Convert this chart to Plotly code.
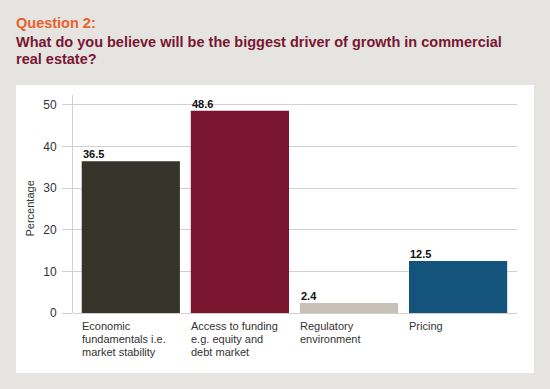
import plotly.graph_objects as go

categories = ["Economic<br>fundamentals i.e.<br>market stability",
              "Access to funding<br>e.g. equity and<br>debt market",
              "Regulatory<br>environment",
              "Pricing"]
values = [36.5, 48.6, 2.4, 12.5]
value_labels = ["36.5", "48.6", "2.4", "12.5"]
bar_colors = ["#35342b", "#7a1530", "#c8c1b7", "#14547c"]
y_ticks = [0, 10, 20, 30, 40, 50]

W, H = 550, 389
L, R, T, B = 73, 33, 95, 76
pw, ph = W - L - R, H - T - B
FONT = "Liberation Sans, Arial"

def px(x):
    return (x - L) / pw

def py(y):
    return (H - B - y) / ph

xs = list(range(len(categories)))
fig = go.Figure()
fig.add_trace(go.Bar(x=xs, y=values, marker=dict(color=bar_colors, line=dict(width=0)),
                     width=0.9, hoverinfo="skip"))

ann = []
for i, (v, t) in enumerate(zip(values, value_labels)):
    ann.append(dict(x=i - 0.45, y=v, xref="x", yref="y", text="<b>" + t + "</b>",
                    showarrow=False, xanchor="left", yanchor="bottom",
                    font=dict(size=11, color="#111111", family=FONT),
                    xshift=-1, yshift=-1))
for i, c in enumerate(categories):
    for k, line in enumerate(c.split("<br>")):
        ann.append(dict(x=i - 0.45, y=0, xref="x", yref="y", text=line, align="left",
                        showarrow=False, xanchor="left", yanchor="top",
                        font=dict(size=11, color="#333333", family=FONT),
                        xshift=-2, yshift=-5 - 13 * k))
ann.append(dict(x=px(29.5), y=py(209), xref="paper", yref="paper", text="Percentage",
                textangle=-90, showarrow=False, xanchor="center", yanchor="middle",
                font=dict(size=11, color="#333333", family=FONT)))
ann.append(dict(x=px(14), y=py(13), xref="paper", yref="paper", text="<b>Question 2:</b>",
                showarrow=False, xanchor="left", yanchor="top",
                font=dict(size=14.5, color="#e8612c", family=FONT)))
ann.append(dict(x=px(14), y=py(32), xref="paper", yref="paper",
                text="<b>What do you believe will be the biggest driver of growth in commercial</b>",
                showarrow=False, xanchor="left", yanchor="top",
                font=dict(size=14.5, color="#7a1632", family=FONT)))
ann.append(dict(x=px(14), y=py(49), xref="paper", yref="paper",
                text="<b>real estate?</b>",
                showarrow=False, xanchor="left", yanchor="top",
                font=dict(size=14.5, color="#7a1632", family=FONT)))

fig.update_layout(
    width=W, height=H,
    margin=dict(l=L, r=R, t=T, b=B, pad=0),
    paper_bgcolor="#e5e4e0",
    plot_bgcolor="rgba(0,0,0,0)",
    showlegend=False,
    bargap=0.1,
    annotations=ann,
    shapes=[dict(type="rect", xref="paper", yref="paper", x0=px(16), x1=px(534),
                 y0=py(373), y1=py(85), fillcolor="white", line=dict(width=0), layer="below")],
    xaxis=dict(range=[-0.53, 3.54], showticklabels=False, showgrid=False, zeroline=False,
               ticks="", showline=False, fixedrange=True),
    yaxis=dict(range=[0, 52.4], tickvals=y_ticks, showgrid=True, gridcolor="#d3d0cc",
               gridwidth=1, zeroline=True, zerolinecolor="#d3d0cc", zerolinewidth=1,
               showline=True, linecolor="#d3d0cc", linewidth=1,
               ticks="outside", ticklen=10, tickcolor="#d3d0cc", ticklabelstandoff=3,
               tickfont=dict(size=12, color="#333333", family=FONT),
               fixedrange=True),
)
fig.write_html("out.html", config={"displayModeBar": False},
               post_script="document.body.style.margin='0';document.body.style.overflow='hidden';")
